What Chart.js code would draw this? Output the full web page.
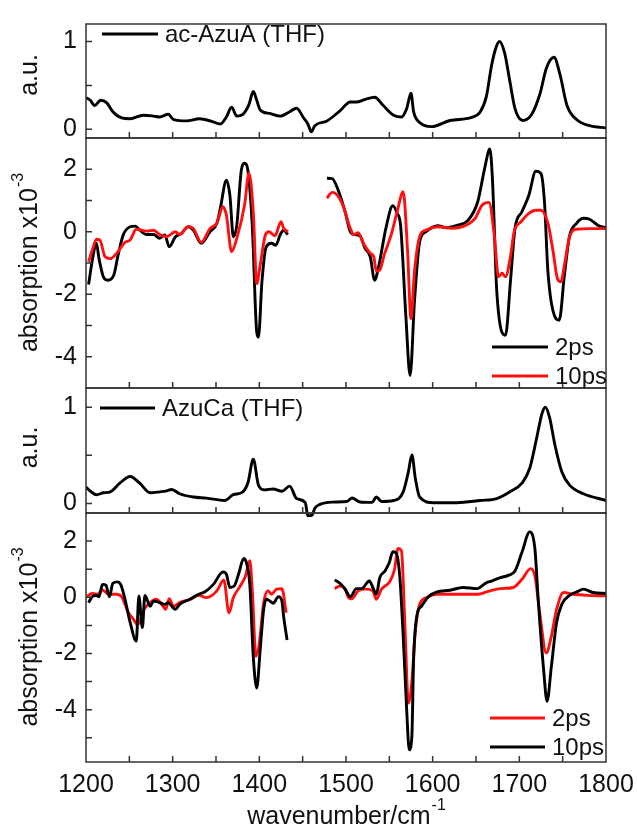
<!DOCTYPE html>
<html>
<head>
<meta charset="utf-8">
<script src="https://cdn.jsdelivr.net/npm/chart.js@4.4.1/dist/chart.umd.min.js"></script>
<style>
  html, body { margin: 0; padding: 0; background: #fff; }
  #wrap { position: relative; width: 637px; height: 834px; }
  #wrap canvas { position: absolute; left: 0; top: 0; }
</style>
</head>
<body>
<div id="wrap">
  <canvas id="p1" width="637" height="834"></canvas>
  <canvas id="p2" width="637" height="834"></canvas>
  <canvas id="p3" width="637" height="834"></canvas>
  <canvas id="p4" width="637" height="834"></canvas>
</div>
<script>
// x axis: wavenumber / cm-1
const xRange = [1200, 1800];
const xTickLabels = [1200, 1300, 1400, 1500, 1600, 1700, 1800];
const xTickMarks = [1250, 1300, 1350, 1400, 1450, 1500, 1550, 1600, 1650, 1700, 1750];

// panel 1: steady-state spectrum ac-AzuA (THF)
const acAzuA_ftir = [
  [1200,0.36],[1205,0.33],[1210,0.27],[1217,0.33],[1224,0.30],[1231,0.20],[1241,0.13],[1251,0.12],
  [1266,0.16],[1278,0.15],[1285,0.14],[1295,0.17],[1301,0.11],[1316,0.095],[1331,0.12],[1345,0.09],
  [1355,0.06],[1362,0.14],[1368,0.25],[1374,0.15],[1381,0.17],[1388,0.28],[1393,0.43],[1397,0.33],
  [1401,0.22],[1412,0.18],[1424,0.15],[1435,0.20],[1443,0.24],[1451,0.13],[1456,0.06],[1460,-0.03],
  [1464,0.04],[1478,0.095],[1493,0.21],[1505,0.31],[1512,0.31],[1522,0.34],[1533,0.365],[1543,0.27],
  [1555,0.16],[1564,0.14],[1570,0.235],[1575,0.41],[1578,0.20],[1585,0.077],[1599,0.03],[1620,0.10],
  [1645,0.135],[1655,0.20],[1662,0.375],[1668,0.73],[1673,0.93],[1677,1.0],[1683,0.87],[1689,0.55],
  [1695,0.235],[1704,0.10],[1714,0.165],[1724,0.41],[1731,0.69],[1740,0.82],[1747,0.62],[1755,0.27],
  [1766,0.11],[1781,0.04],[1800,0.015]
];

// panel 2: transient spectra ac-AzuA, absorption x10^-3
const acAzuA_2ps = [
  [1203,-1.69],[1207,-0.96],[1212,-0.37],[1215,-0.86],[1220,-1.44],[1225,-1.55],[1232,-1.39],[1237,-0.75],
  [1243,-0.1],[1251,0.16],[1257,0.18],[1262,0.05],[1270,-0.09],[1278,-0.09],[1285,-0.21],[1291,-0.1],
  [1296,-0.48],[1303,-0.17],[1310,-0.06],[1318,0.16],[1324,0.05],[1333,-0.37],[1343,0.0],[1351,0.27],
  [1355,0.75],[1362,1.65],[1366,1.17],[1370,-0.16],[1374,0.21],[1379,1.92],[1383,2.19],[1387,1.92],
  [1392,0.11],[1397,-3.21],[1399,-3.37],[1403,-1.6],[1408,-0.48],[1414,-0.37],[1419,-0.43],[1424,-0.1],
  [1428,0.05],[1433,-0.09],
  [1455,null],
  [1478,1.71],[1484,1.7],[1491,1.33],[1499,0.64],[1505,0.0],[1510,-0.09],[1516,-0.13],[1522,-0.53],
  [1528,-0.8],[1533,-1.55],[1538,-1.07],[1546,0.11],[1554,0.83],[1559,0.59],[1563,0.2],[1569,-2.67],
  [1574,-4.6],[1579,-2.24],[1585,-0.32],[1592,0.0],[1606,0.19],[1616,0.13],[1629,0.21],[1641,0.37],
  [1652,0.96],[1660,2.03],[1666,2.65],[1669,1.67],[1674,-1.92],[1684,-3.31],[1690,-1.5],[1695,0.11],
  [1703,0.64],[1711,1.17],[1719,1.94],[1725,1.86],[1729,0.96],[1733,-1.28],[1741,-2.72],[1746,-2.83],
  [1752,-1.39],[1758,-0.13],[1766,0.27],[1774,0.43],[1781,0.4],[1791,0.2],[1800,0.13]
];
const acAzuA_10ps = [
  [1203,-0.96],[1208,-0.53],[1212,-0.24],[1216,-0.27],[1222,-0.8],[1228,-0.86],[1235,-0.7],[1245,-0.34],
  [1251,-0.26],[1258,0.08],[1270,0.02],[1278,0.05],[1285,-0.09],[1293,-0.16],[1303,0.0],[1308,-0.09],
  [1318,0.16],[1324,0.1],[1333,-0.34],[1343,0.1],[1351,0.27],[1358,0.8],[1362,0.53],[1368,-0.64],
  [1374,-0.21],[1383,0.86],[1388,1.87],[1393,0.64],[1397,-1.66],[1401,-1.07],[1407,-0.1],[1411,0.0],
  [1418,-0.13],[1425,0.32],[1428,0.11],[1433,0.0],
  [1455,null],
  [1478,1.07],[1484,1.26],[1490,1.17],[1497,0.8],[1505,0.1],[1509,-0.09],[1514,-0.03],[1520,-0.37],
  [1528,-0.69],[1532,-0.8],[1535,-1.26],[1539,-1.23],[1544,-0.75],[1552,-0.11],[1559,0.64],[1566,1.28],
  [1571,-0.6],[1575,-2.78],[1579,-1.28],[1585,-0.16],[1592,0.05],[1606,0.16],[1622,0.11],[1637,0.19],
  [1649,0.43],[1657,0.85],[1665,0.94],[1671,-0.09],[1676,-1.44],[1680,-1.33],[1684,-1.44],[1690,-0.75],
  [1694,0.0],[1702,0.32],[1711,0.59],[1719,0.69],[1725,0.69],[1733,0.27],[1739,-0.64],[1744,-1.5],
  [1748,-1.6],[1752,-1.07],[1758,-0.16],[1766,0.08],[1781,0.1],[1800,0.1]
];

// panel 3: steady-state spectrum AzuCa (THF)
const azuCa_ftir = [
  [1200,0.17],[1206,0.12],[1212,0.09],[1220,0.11],[1228,0.12],[1239,0.21],[1251,0.28],[1262,0.21],
  [1274,0.11],[1285,0.12],[1293,0.13],[1299,0.145],[1308,0.10],[1324,0.066],[1339,0.055],[1360,0.03],
  [1370,0.09],[1381,0.12],[1387,0.22],[1393,0.46],[1399,0.19],[1406,0.14],[1416,0.15],[1426,0.126],
  [1435,0.18],[1443,0.05],[1453,0.007],[1456,-0.13],[1461,-0.12],[1464,-0.05],[1470,-0.01],[1485,0.013],
  [1501,0.02],[1507,0.056],[1516,0.015],[1530,0.01],[1535,0.066],[1541,0.02],[1555,0.03],[1566,0.12],
  [1572,0.33],[1576,0.505],[1580,0.26],[1585,0.066],[1601,0.007],[1628,0.007],[1655,0.03],[1674,0.05],
  [1689,0.12],[1703,0.21],[1712,0.365],[1720,0.68],[1726,0.93],[1730,1.0],[1735,0.89],[1741,0.61],
  [1749,0.33],[1758,0.19],[1774,0.10],[1800,0.03]
];

// panel 4: transient spectra AzuCa, absorption x10^-3
const azuCa_2ps = [
  [1201,0.02],[1207,0.14],[1213,0.11],[1219,0.26],[1226,0.11],[1235,0.11],[1241,0.02],[1249,-0.55],
  [1255,-0.79],[1259,-0.96],[1262,-0.88],[1267,-0.43],[1274,-0.19],[1281,-0.07],[1289,-0.32],[1292,-0.43],
  [1296,-0.05],[1301,-0.32],[1308,-0.19],[1320,-0.07],[1330,0.07],[1339,-0.01],[1351,0.23],[1359,0.62],
  [1365,-0.55],[1370,-0.01],[1378,0.4],[1384,0.76],[1389,1.3],[1392,0.17],[1396,-2.1],[1400,-1.62],
  [1405,-0.19],[1410,0.23],[1414,0.11],[1420,0.29],[1426,0.31],[1431,-0.55],
  [1460,null],
  [1487,0.31],[1493,0.4],[1499,0.29],[1503,-0.01],[1507,-0.05],[1514,0.23],[1523,0.29],[1531,0.23],
  [1535,-0.07],[1541,0.29],[1551,0.58],[1556,1.0],[1560,1.74],[1564,1.65],[1568,-1.02],[1572,-3.76],
  [1576,-3.0],[1580,-1.2],[1585,-0.25],[1593,-0.01],[1605,0.11],[1628,0.11],[1651,0.11],[1666,0.23],
  [1678,0.31],[1693,0.35],[1703,0.64],[1713,1.02],[1718,0.76],[1724,-0.67],[1731,-1.98],[1737,-1.38],
  [1743,-0.43],[1751,0.17],[1762,0.11],[1778,0.07],[1800,0.05]
];
const azuCa_10ps = [
  [1203,-0.19],[1207,0.02],[1212,0.07],[1215,0.02],[1219,0.46],[1223,0.43],[1227,0.02],[1231,0.5],
  [1236,0.55],[1240,0.46],[1245,-0.07],[1251,-0.9],[1258,-1.56],[1261,0.05],[1265,-1.08],[1268,0.07],
  [1274,-0.32],[1278,-0.13],[1285,-0.19],[1291,-0.25],[1295,-0.19],[1299,-0.32],[1303,-0.43],[1308,-0.25],
  [1320,-0.07],[1330,0.11],[1337,0.19],[1347,0.46],[1358,0.9],[1362,0.82],[1366,0.35],[1371,0.4],
  [1376,0.82],[1382,1.38],[1385,1.24],[1389,0.46],[1393,-2.1],[1397,-3.23],[1401,-1.86],[1405,-0.43],
  [1408,-0.07],[1412,-0.13],[1416,-0.21],[1422,0.02],[1426,-0.13],[1428,-0.67],[1432,-1.52],
  [1460,null],
  [1487,0.62],[1493,0.5],[1499,0.29],[1505,0.02],[1512,0.31],[1518,0.31],[1527,0.58],[1531,0.35],
  [1535,0.11],[1539,0.7],[1545,0.94],[1550,1.24],[1554,1.62],[1558,1.57],[1562,0.76],[1566,-1.38],
  [1570,-4.0],[1573,-5.43],[1576,-4.95],[1578,-2.21],[1582,-0.62],[1587,-0.32],[1595,0.02],[1605,0.19],
  [1620,0.25],[1635,0.35],[1651,0.31],[1662,0.52],[1668,0.58],[1678,0.7],[1688,0.79],[1695,0.94],
  [1703,1.6],[1712,2.33],[1718,1.71],[1722,-0.19],[1728,-2.57],[1732,-3.7],[1737,-2.45],[1743,-0.9],
  [1749,-0.25],[1758,0.07],[1766,0.19],[1774,0.29],[1785,0.17],[1800,0.14]
];

const BLACK = '#000000';
const RED = '#ff1010';
const FRAME = '#333333';
const TEXT = '#111111';
const FONT = '"Liberation Sans", Arial, Helvetica, sans-serif';

Chart.defaults.font.family = FONT;
Chart.defaults.font.size = 25;
Chart.defaults.color = TEXT;

const toXY = arr => arr.map(p => ({ x: p[0], y: p[1] }));

function line(label, data, color) {
  return {
    label: label,
    data: toXY(data),
    borderColor: color,
    backgroundColor: color,
    borderWidth: 2.9,
    pointRadius: 0,
    cubicInterpolationMode: 'monotone',
    spanGaps: false
  };
}

// frame, inward ticks, legend and axis titles
const panelDecor = {
  id: 'panelDecor',
  afterDatasetsDraw(chart, args, opts) {
    const { ctx, chartArea: a, scales } = chart;
    const x = scales.x, y = scales.y;
    ctx.save();
    ctx.strokeStyle = FRAME;
    ctx.lineWidth = 1.5;
    ctx.strokeRect(a.left, a.top, a.right - a.left, a.bottom - a.top);
    ctx.beginPath();
    xTickMarks.forEach(v => {
      const px = x.getPixelForValue(v);
      ctx.moveTo(px, a.bottom);
      ctx.lineTo(px, a.bottom - 6);
    });
    y.ticks.forEach(t => {
      if (t.value <= y.min || t.value >= y.max) return;
      const py = y.getPixelForValue(t.value);
      ctx.moveTo(a.left, py);
      ctx.lineTo(a.left + 6, py);
    });
    ctx.stroke();

    // legend
    (opts.legend || []).forEach(it => {
      ctx.strokeStyle = it.color;
      ctx.lineWidth = 2.9;
      ctx.beginPath();
      ctx.moveTo(it.x0, it.y);
      ctx.lineTo(it.x1, it.y);
      ctx.stroke();
      ctx.fillStyle = TEXT;
      ctx.font = '24px ' + FONT;
      ctx.textAlign = 'left';
      ctx.textBaseline = 'middle';
      ctx.fillText(it.text, it.x1 + 7, it.y + 1);
    });

    // axis titles (optional superscript)
    if (opts.yTitle) {
      drawTitle(ctx, opts.yTitle, opts.ySup, 30, (a.top + a.bottom) / 2 + (opts.yShift || 0), true);
    }
    if (opts.xTitle) {
      drawTitle(ctx, opts.xTitle, opts.xSup, (a.left + a.right) / 2, 817, false);
    }
    ctx.restore();
  }
};

function drawTitle(ctx, main, sup, cx, cy, rotated) {
  ctx.save();
  ctx.fillStyle = TEXT;
  ctx.textBaseline = 'middle';
  ctx.textAlign = 'left';
  ctx.font = '25px ' + FONT;
  const w1 = ctx.measureText(main).width;
  ctx.font = '16px ' + FONT;
  const w2 = sup ? ctx.measureText(sup).width : 0;
  ctx.translate(cx, cy);
  if (rotated) ctx.rotate(-Math.PI / 2);
  const start = -(w1 + w2) / 2;
  ctx.font = '25px ' + FONT;
  ctx.fillText(main, start, 0);
  if (sup) {
    ctx.font = '16px ' + FONT;
    ctx.fillText(sup, start + w1 + 1, -11);
  }
  ctx.restore();
}

function makePanel(id, cfg) {
  const showX = !!cfg.showX;
  const xScale = {
    type: 'linear',
    min: xRange[0],
    max: xRange[1],
    display: showX,
    grid: { display: false },
    border: { display: false },
    afterBuildTicks: s => { s.ticks = xTickLabels.map(v => ({ value: v })); },
    ticks: { padding: 0, maxRotation: 0, autoSkip: false, callback: v => String(v) }
  };
  if (showX) xScale.afterFit = s => { s.height = 834 - cfg.bottom; };

  return new Chart(document.getElementById(id), {
    type: 'line',
    data: { datasets: cfg.datasets },
    options: {
      responsive: false,
      devicePixelRatio: 1,
      animation: false,
      events: [],
      layout: {
        padding: { left: 0, right: 31, top: cfg.top, bottom: showX ? 0 : 834 - cfg.bottom }
      },
      plugins: {
        legend: { display: false },
        tooltip: { enabled: false },
        panelDecor: cfg.decor
      },
      scales: {
        x: xScale,
        y: {
          min: cfg.yMin,
          max: cfg.yMax,
          grid: { display: false, drawTicks: false },
          border: { display: false },
          afterFit: s => { s.width = 86; },
          ticks: {
            stepSize: cfg.step,
            includeBounds: false,
            autoSkip: false,
            padding: 9,
            callback: v => (cfg.labels.includes(v) ? String(v) : '')
          }
        }
      }
    },
    plugins: [panelDecor]
  });
}

makePanel('p1', {
  top: 15, bottom: 138, yMin: -0.1, yMax: 1.2, step: 0.5, labels: [0, 1],
  datasets: [line('ac-AzuA (THF)', acAzuA_ftir, BLACK)],
  decor: { yTitle: 'a.u.', yShift: -6, legend: [{ text: 'ac-AzuA (THF)', color: BLACK, x0: 102, x1: 158, y: 34 }] }
});

makePanel('p2', {
  top: 138, bottom: 388, yMin: -5, yMax: 3, step: 1, labels: [-4, -2, 0, 2],
  datasets: [line('10ps', acAzuA_10ps, RED), line('2ps', acAzuA_2ps, BLACK)],
  decor: {
    yTitle: 'absorption x10', ySup: '-3',
    legend: [
      { text: '2ps', color: BLACK, x0: 492, x1: 548, y: 347 },
      { text: '10ps', color: RED, x0: 492, x1: 548, y: 376 }
    ]
  }
});

const p3data = line('AzuCa (THF)', azuCa_ftir, BLACK);
p3data.clip = { left: 0, top: 0, right: 0, bottom: 4 };
makePanel('p3', {
  top: 388, bottom: 513, yMin: -0.1, yMax: 1.2, step: 0.5, labels: [0, 1],
  datasets: [p3data],
  decor: { yTitle: 'a.u.', yShift: -3, legend: [{ text: 'AzuCa (THF)', color: BLACK, x0: 100, x1: 155, y: 408 }] }
});

makePanel('p4', {
  top: 513, bottom: 762, yMin: -5.86, yMax: 3, step: 1, labels: [-4, -2, 0, 2], showX: true,
  datasets: [line('10ps', azuCa_10ps, BLACK), line('2ps', azuCa_2ps, RED)],
  decor: {
    yTitle: 'absorption x10', ySup: '-3',
    xTitle: 'wavenumber/cm', xSup: '-1',
    legend: [
      { text: '2ps', color: RED, x0: 490, x1: 545, y: 718 },
      { text: '10ps', color: BLACK, x0: 490, x1: 545, y: 747 }
    ]
  }
});
</script>
</body>
</html>
